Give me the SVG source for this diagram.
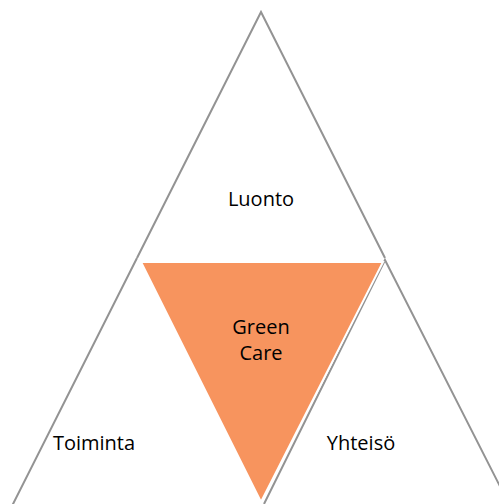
<svg xmlns="http://www.w3.org/2000/svg" width="499" height="504" viewBox="0 0 499 504">
<style>
.tri{fill:#ffffff;stroke:#939393;stroke-width:2;stroke-linejoin:miter}
.core{fill:#F7945E;stroke:#ffffff;stroke-width:2}
.lbl{font-family:"Open Sans","Liberation Sans",sans-serif;font-size:20px;fill:#000000;text-anchor:middle}
</style>
<rect width="499" height="504" fill="#ffffff"/>
<g id="luonto">
<path class="tri" d="M137,258 L261,12 L385,258"/>
<text class="lbl" x="261" y="206">Luonto</text>
</g>
<g id="toiminta">
<path class="tri" d="M137,258 L12,506 L262,506"/>
<text class="lbl" x="94" y="450">Toiminta</text>
</g>
<g id="yhteiso">
<path class="tri" d="M264,504 L385,260 L510,506"/>
<text class="lbl" x="361" y="450">Yhteisö</text>
</g>
<g id="greencare">
<polygon class="core" points="141,262 383,262 261,502"/>
<text class="lbl" x="261" y="334">Green</text>
<text class="lbl" x="261" y="360">Care</text>
</g>
</svg>
